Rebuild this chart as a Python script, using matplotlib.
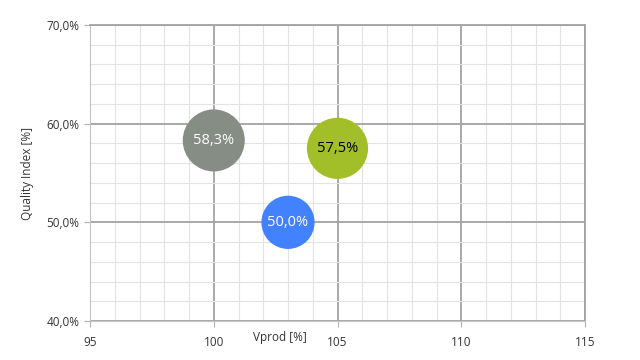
import matplotlib
matplotlib.use('Agg')
import matplotlib.pyplot as plt
from matplotlib.ticker import MultipleLocator, FuncFormatter

plt.rcParams['font.family'] = ['Open Sans', 'DejaVu Sans']

# data
names = ['A', 'B', 'C']
vprod = [100.0, 105.0, 103.0]
quality = [58.3, 57.5, 50.0]
colors = ['#868d85', '#a2bf29', '#4281ff']
text_colors = ['white', 'black', 'white']

fig = plt.figure(figsize=(6.4, 3.6), dpi=100)
ax = fig.add_axes([90 / 640, 1 - 321 / 360, 495 / 640, 296 / 360])

# bubble radius proportional to the value
sizes = [(q * 1.064 * 0.72) ** 2 for q in quality]
ax.scatter(vprod, quality, s=sizes, c=colors, edgecolors='none', zorder=3)
for x, y, c in zip(vprod, quality, text_colors):
    ax.text(x, y, ('%.1f%%' % y).replace('.', ','), ha='center', va='center',
            fontsize=10.5, color=c, zorder=4)

ax.set_xlim(95, 115)
ax.set_ylim(40, 70)
ax.xaxis.set_major_locator(MultipleLocator(5))
ax.xaxis.set_minor_locator(MultipleLocator(1))
ax.yaxis.set_major_locator(MultipleLocator(10))
ax.yaxis.set_minor_locator(MultipleLocator(2))
ax.yaxis.set_major_formatter(FuncFormatter(lambda v, p: ('%.1f%%' % v).replace('.', ',')))

ax.grid(which='minor', color='#e3e3e3', linewidth=0.8, zorder=0)
ax.grid(which='major', color='#a3a3a3', linewidth=1.3, zorder=1)
ax.set_axisbelow(True)
for k in ['top', 'right']:
    ax.spines[k].set_color('#a3a3a3')
    ax.spines[k].set_linewidth(1.3)
for k in ['left', 'bottom']:
    ax.spines[k].set_color('#c4c4c4')
    ax.spines[k].set_linewidth(0.8)

ax.tick_params(which='minor', length=0)
ax.tick_params(which='major', length=4, width=0.8, color='#b0b0b0', labelsize=8.5, labelcolor='#333333')
ax.tick_params(axis='x', pad=7)

ax.set_ylabel('Quality Index [%]', fontsize=8.5, color='#333333')
ax.yaxis.set_label_coords(-56 / 495, 0.5)
ax.set_xlabel('Vprod [%]', fontsize=8.5, color='#333333')
ax.xaxis.set_label_coords((280 - 90) / 495, -17 / 296)
ax.xaxis.label.set_va('center')

fig.savefig('out.png', dpi=100)
